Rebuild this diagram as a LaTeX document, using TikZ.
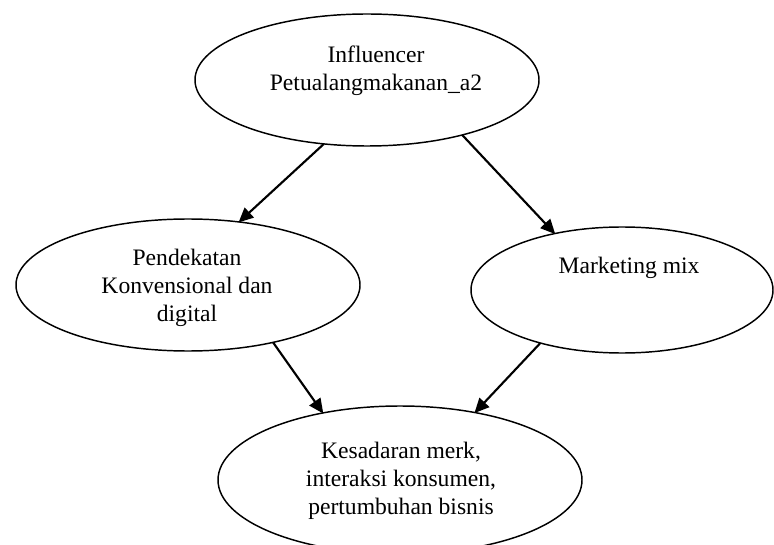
\documentclass[tikz,border=0pt]{standalone}
\usepackage{fontspec}
\setmainfont{Liberation Serif}
\usetikzlibrary{shapes.geometric,arrows.meta}
\tikzset{
  oval/.style={ellipse, draw=black, line width=1.1pt, inner sep=0pt, outer sep=0pt, fill=white},
  lbl/.style={align=center, inner sep=0pt, font=\fontsize{17.7pt}{21pt}\selectfont},
  conn/.style={line width=1.6pt, -{Triangle[length=11pt,width=10pt]}, shorten >=-0.5pt}
}
\begin{document}
\begin{tikzpicture}[x={(0.75pt,0)}, y={(0,-0.75pt)}]
\useasboundingbox (0,0) rectangle (774,545);
\begin{scope}
\clip (0,0) rectangle (774,545);
\node[oval, minimum width=258pt, minimum height=99pt] (top) at (367,80) {};
\node[oval, minimum width=258pt, minimum height=99pt] (left) at (188,285) {};
\node[oval, minimum width=226.5pt, minimum height=94.5pt] (right) at (622,290) {};
\node[oval, minimum width=273pt, minimum height=111pt] (bot) at (400,480) {};
\end{scope}
\node[lbl] (ttop) at (376,71) {Influencer\\Petualangmakanan\_a2};
\node[lbl] (tleft) at (187,288) {Pendekatan\\Konvensional dan\\digital};
\node[lbl] (tright) at (629,268) {Marketing mix};
\node[lbl] (tbot) at (401,481) {Kesadaran merk,\\interaksi konsumen,\\pertumbuhan bisnis};
\draw[conn] (top.-124.5) -- (left.51.6);
\draw[conn] (top.-30.8) -- (right.140.4);
\draw[conn] (left.-34) -- (bot.139.4);
\draw[conn] (right.-147.6) -- (bot.42.9);
\end{tikzpicture}
\end{document}
